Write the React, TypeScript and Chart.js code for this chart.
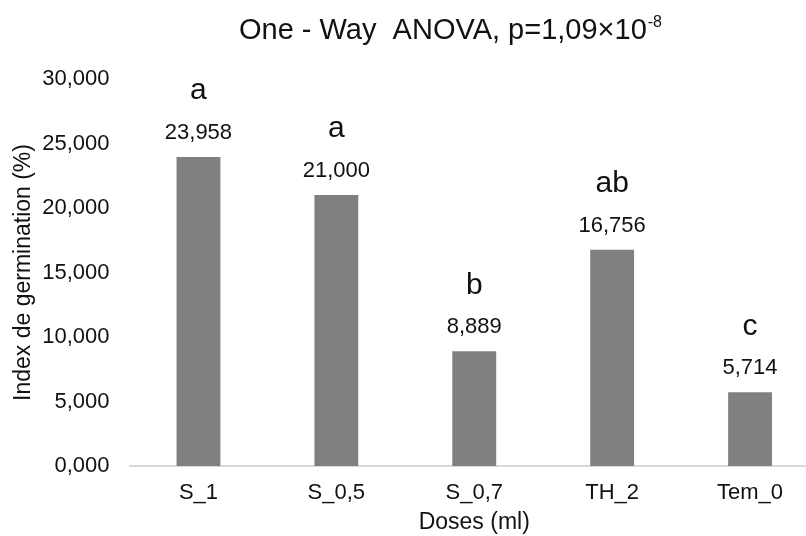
import React, { useEffect, useRef } from "react";
import { Chart, registerables } from "chart.js";

Chart.register(...registerables);

const categories = ["S_1", "S_0,5", "S_0,7", "TH_2", "Tem_0"];
const values = [23.958, 21.0, 8.889, 16.756, 5.714];
const letters = ["a", "a", "b", "ab", "c"];
const yTicks = [0, 5, 10, 15, 20, 25, 30];
const titleMain = "One - Way  ANOVA, p=1,09×10";
const titleSup = "-8";
const yTitle = "Index de germination (%)";
const xTitle = "Doses (ml)";

const FONT = "'Liberation Sans', Arial, sans-serif";
const TEXT = "#111111";

const fmt = (v: number) => v.toFixed(3).replace(".", ",");

export default function App() {
  const ref = useRef<HTMLCanvasElement | null>(null);
  useEffect(() => {
    if (!ref.current) return;
    const labelPlugin = {
      id: "labels",
      afterDatasetsDraw(chart: any) {
        const ctx = chart.ctx;
        const meta = chart.getDatasetMeta(0);
        ctx.save();
        ctx.fillStyle = TEXT;
        ctx.textAlign = "center";
        ctx.textBaseline = "middle";
        meta.data.forEach((bar: any, i: number) => {
          ctx.font = `22px ${FONT}`;
          ctx.fillText(fmt(values[i]), bar.x, bar.y - 24);
          ctx.font = `30px ${FONT}`;
          ctx.fillText(letters[i], bar.x, bar.y - 66);
        });
        ctx.restore();
      },
      afterDraw(chart: any) {
        const ctx = chart.ctx;
        ctx.save();
        ctx.fillStyle = TEXT;
        ctx.textBaseline = "alphabetic";
        ctx.font = `29px ${FONT}`;
        const w1 = ctx.measureText(titleMain).width;
        ctx.font = `16px ${FONT}`;
        const w2 = ctx.measureText(titleSup).width;
        const x0 = 450 - (w1 + w2) / 2;
        ctx.textAlign = "left";
        ctx.font = `29px ${FONT}`;
        ctx.fillText(titleMain, x0, 39);
        ctx.font = `16px ${FONT}`;
        ctx.fillText(titleSup, x0 + w1 + 1, 27);
        ctx.restore();
      },
    };
    const chart = new Chart(ref.current, {
      type: "bar",
      data: {
        labels: categories,
        datasets: [
          {
            data: values,
            backgroundColor: "#808080",
            borderWidth: 0,
            barPercentage: 0.318,
            categoryPercentage: 1,
          },
        ],
      },
      options: {
        responsive: false,
        animation: false,
        layout: { padding: { top: 79, right: 11, left: 0, bottom: 0 } },
        plugins: { legend: { display: false }, tooltip: { enabled: false }, title: { display: false } },
        scales: {
          x: {
            grid: { display: false, drawTicks: false },
            border: { display: true, color: "#d9d9d9", width: 2 },
            ticks: { color: TEXT, font: { size: 22, family: FONT }, padding: 14 },
            title: { display: true, text: xTitle, color: TEXT, font: { size: 23, family: FONT }, padding: { top: 0, bottom: 0 } },
            afterFit: (s: any) => { s.height = 70; },
          },
          y: {
            min: 0,
            max: 30,
            afterBuildTicks: (s: any) => { s.ticks = yTicks.map((v) => ({ value: v })); },
            grid: { display: false, drawTicks: false },
            border: { display: false },
            ticks: { color: TEXT, font: { size: 22, family: FONT }, padding: 20, callback: (v: any) => fmt(Number(v)) },
            title: { display: true, text: yTitle, color: TEXT, font: { size: 23, family: FONT }, padding: { top: 10, bottom: 0 } },
            afterFit: (s: any) => { s.width = 129.5; },
          },
        },
      },
      plugins: [labelPlugin],
    });
    return () => chart.destroy();
  }, []);
  return (
    <div style={{ position: "fixed", left: 0, top: 0, width: 806, height: 536, overflow: "hidden", background: "#fff" }}>
      <canvas ref={ref} width={830} height={536} style={{ display: "block" }} />
    </div>
  );
}
